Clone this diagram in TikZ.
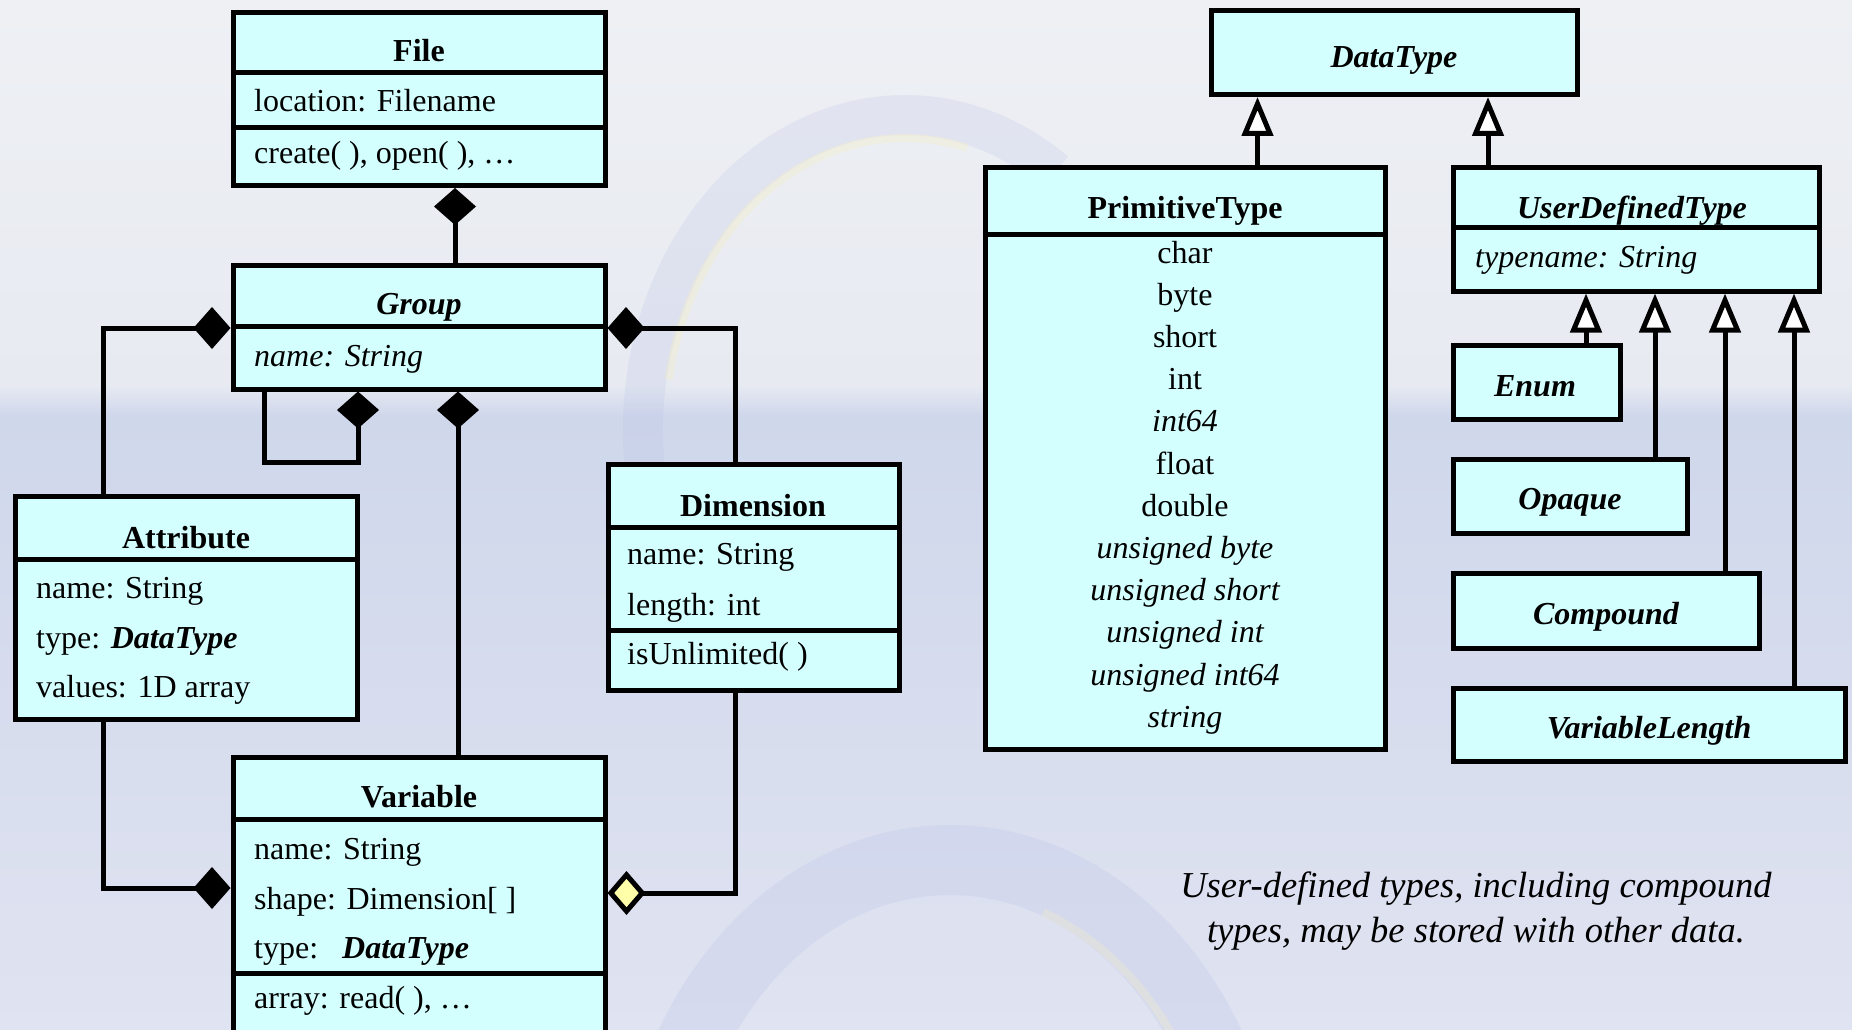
\documentclass[tikz,border=0pt]{standalone}
\usepackage{fontspec}
\setmainfont{Liberation Serif}
\usetikzlibrary{arrows.meta}

\definecolor{boxfill}{RGB}{212,255,255}
\definecolor{aggfill}{RGB}{255,255,170}
\definecolor{bgtop}{RGB}{238,240,244}
\definecolor{bgpre}{RGB}{231,234,241}
\definecolor{bgband}{RGB}{207,215,235}
\definecolor{bgbot}{RGB}{224,227,241}
\definecolor{ringblue}{RGB}{186,194,232}
\definecolor{ringgold}{RGB}{246,238,196}

% class box given by the centre line of its border: name, x1, y1, x2, y2
\newcommand{\umlclass}[5]{%
  \node[classbox, minimum width={(#4)-(#2)}, minimum height={(#5)-(#3)}]
    (#1) at ({((#2)+(#4))/2},{((#3)+(#5))/2}) {};}
% compartment separator across a box at height y
\newcommand{\umlsep}[2]{%
  \draw[sepline] (#1.west |- 0,#2) -- (#1.east |- 0,#2);}

\begin{document}
\begin{tikzpicture}[x=1pt,y=-1pt,
  classbox/.style={draw=black, fill=boxfill, line width=5pt, inner sep=0pt},
  sepline/.style={line width=5pt},
  link/.style={line width=5pt},
  comp/.style={link, arrows={Diamond[length=37pt,width=42pt]-}},
  agg/.style={link, arrows={Diamond[fill=aggfill,length=38pt,width=44pt]-}},
  inh/.style={link, arrows={-Triangle[fill=white,length=39pt,width=31pt]}},
  title/.style={anchor=base, inner sep=0pt, font=\fontsize{32}{38}\selectfont\bfseries},
  atitle/.style={anchor=base, inner sep=0pt, font=\fontsize{32}{38}\selectfont\bfseries\itshape},
  attr/.style={anchor=base west, inner sep=0pt, font=\fontsize{32}{38}\selectfont},
  iattr/.style={anchor=base west, inner sep=0pt, font=\fontsize{32}{38}\selectfont\itshape},
  item/.style={anchor=base, inner sep=0pt, font=\fontsize{32}{38}\selectfont},
  iitem/.style={anchor=base, inner sep=0pt, font=\fontsize{32}{38}\selectfont\itshape},
  note/.style={anchor=base, inner sep=0pt, font=\fontsize{36.5}{45}\selectfont\itshape},
]
\useasboundingbox (0,0) rectangle (1852,1030);
\clip (0,0) rectangle (1852,1030);

% backdrop: pale sky, darker horizon band, soft rings
\shade[top color=bgtop, bottom color=bgpre] (0,0) rectangle (1852,386);
\shade[top color=bgpre, bottom color=bgband] (0,385) rectangle (1852,416);
\shade[top color=bgband, bottom color=bgbot] (0,415) rectangle (1852,1030);
\draw[ringblue, opacity=0.22, line width=40pt]
  (905,430) ++(170:262 and 315) arc[start angle=170, end angle=305, x radius=262, y radius=315];
\draw[ringgold, opacity=0.35, line width=8pt]
  (905,430) ++(190:240 and 292) arc[start angle=190, end angle=285, x radius=240, y radius=292];
\draw[ringblue, opacity=0.25, line width=70pt]
  (950,1230) ++(180:300 and 370) arc[start angle=180, end angle=360, x radius=300, y radius=370];
\draw[ringgold, opacity=0.3, line width=8pt]
  (950,1230) ++(290:272 and 338) arc[start angle=290, end angle=335, x radius=272, y radius=338];

% ---------- classes ----------
\umlclass{file}{233}{12.5}{605}{185.5}
\umlsep{file}{72.5}
\umlsep{file}{127.5}

\umlclass{group}{233}{265}{605}{389}
\umlsep{group}{326}

\umlclass{attribute}{15}{496}{357}{719}
\umlsep{attribute}{559}

\umlclass{dimension}{608}{464}{899}{690}
\umlsep{dimension}{527}
\umlsep{dimension}{630}

\umlclass{variable}{233}{757}{605}{1050}
\umlsep{variable}{819}
\umlsep{variable}{973}

\umlclass{datatype}{1211}{11}{1577}{94.5}

\umlclass{primitive}{985}{167}{1385}{749}
\umlsep{primitive}{234}

\umlclass{udt}{1453}{167}{1819}{291}
\umlsep{udt}{227.5}

\umlclass{enum}{1453}{345}{1620}{419}
\umlclass{opaque}{1453}{459}{1687}{533}
\umlclass{compound}{1453}{573}{1759}{648}
\umlclass{varlen}{1453}{688}{1845}{761}

% ---------- routing coordinates ----------
\coordinate (xfg) at (455,0);
\coordinate (ygl) at (0,328);
\coordinate (xat) at (103,0);
\coordinate (xdm) at (735,0);
\coordinate (xsl) at (264,0);
\coordinate (xsr) at (358,0);
\coordinate (ysb) at (0,462);
\coordinate (xgv) at (458,0);
\coordinate (yav) at (0,888);
\coordinate (ydv) at (0,893);
\coordinate (xpt) at (1257.5,0);
\coordinate (xud) at (1488,0);
\coordinate (xen) at (1586,0);
\coordinate (xop) at (1655,0);
\coordinate (xco) at (1725,0);
\coordinate (xvl) at (1794,0);

% ---------- associations ----------
\draw[comp] (file.south -| xfg) -- (group.north -| xfg);
\draw[comp] (group.west |- ygl) -| (attribute.north -| xat);
\draw[comp] (group.east |- ygl) -| (dimension.north -| xdm);
\draw[comp] (group.south -| xsr) |- (xsl |- ysb) -- (group.south -| xsl);
\draw[comp] (group.south -| xgv) -- (variable.north -| xgv);
\draw[comp] (variable.west |- yav) -| (attribute.south -| xat);
\draw[agg]  (variable.east |- ydv) -| (dimension.south -| xdm);

% ---------- generalisations ----------
\draw[inh] (primitive.north -| xpt) -- (datatype.south -| xpt);
\draw[inh] (udt.north -| xud) -- (datatype.south -| xud);
\draw[inh] (enum.north -| xen) -- (udt.south -| xen);
\draw[inh] (opaque.north -| xop) -- (udt.south -| xop);
\draw[inh] (compound.north -| xco) -- (udt.south -| xco);
\draw[inh] (varlen.north -| xvl) -- (udt.south -| xvl);

% ---------- texts ----------
\node[title] (file-t) at (419,62) {File};
\node[attr] (file-a) at (254,112) {location: Filename};
\node[attr] (file-o) at (254,163) {create( ), open( ), …};

\node[atitle] (group-t) at (419,314) {Group};
\node[iattr] (group-a) at (254,366) {name: String};

\node[title] (attribute-t) at (186,548) {Attribute};
\node[attr] (attribute-a1) at (36,598) {name: String};
\node[attr] (attribute-a2) at (36,648) {type: \textbf{\textit{DataType}}};
\node[attr] (attribute-a3) at (36,697) {values: 1D array};

\node[title] (dimension-t) at (753,516) {Dimension};
\node[attr] (dimension-a1) at (627,564) {name: String};
\node[attr] (dimension-a2) at (627,615) {length: int};
\node[attr] (dimension-o) at (627,664) {isUnlimited( )};

\node[title] (variable-t) at (419,807) {Variable};
\node[attr] (variable-a1) at (254,859) {name: String};
\node[attr] (variable-a2) at (254,909) {shape: Dimension[ ]};
\node[attr] (variable-a3) at (254,958) {type:\hspace{24pt}\textbf{\textit{DataType}}};
\node[attr] (variable-o) at (254,1008) {array: read( ), …};

\node[atitle] (datatype-t) at (1394,68) {DataType};

\node[title] (primitive-t) at (1185,218) {PrimitiveType};
\node[item]  (p1)  at (1185,263.0) {char};
\node[item]  (p2)  at (1185,305.2) {byte};
\node[item]  (p3)  at (1185,347.4) {short};
\node[item]  (p4)  at (1185,389.6) {int};
\node[iitem] (p5)  at (1185,431.8) {int64};
\node[item]  (p6)  at (1185,474.0) {float};
\node[item]  (p7)  at (1185,516.2) {double};
\node[iitem] (p8)  at (1185,558.4) {unsigned byte};
\node[iitem] (p9)  at (1185,600.6) {unsigned short};
\node[iitem] (p10) at (1185,642.8) {unsigned int};
\node[iitem] (p11) at (1185,685.0) {unsigned int64};
\node[iitem] (p12) at (1185,727.2) {string};

\node[atitle] (udt-t) at (1632,218) {UserDefinedType};
\node[iattr] (udt-a) at (1475,267) {typename: String};

\node[atitle] (enum-t) at (1535,396) {Enum};
\node[atitle] (opaque-t) at (1570,509) {Opaque};
\node[atitle] (compound-t) at (1606,624) {Compound};
\node[atitle] (varlen-t) at (1649,738) {VariableLength};

\node[note] (note-1) at (1476,897) {User-defined types, including compound};
\node[note] (note-2) at (1476,942) {types, may be stored with other data.};
\end{tikzpicture}
\end{document}
